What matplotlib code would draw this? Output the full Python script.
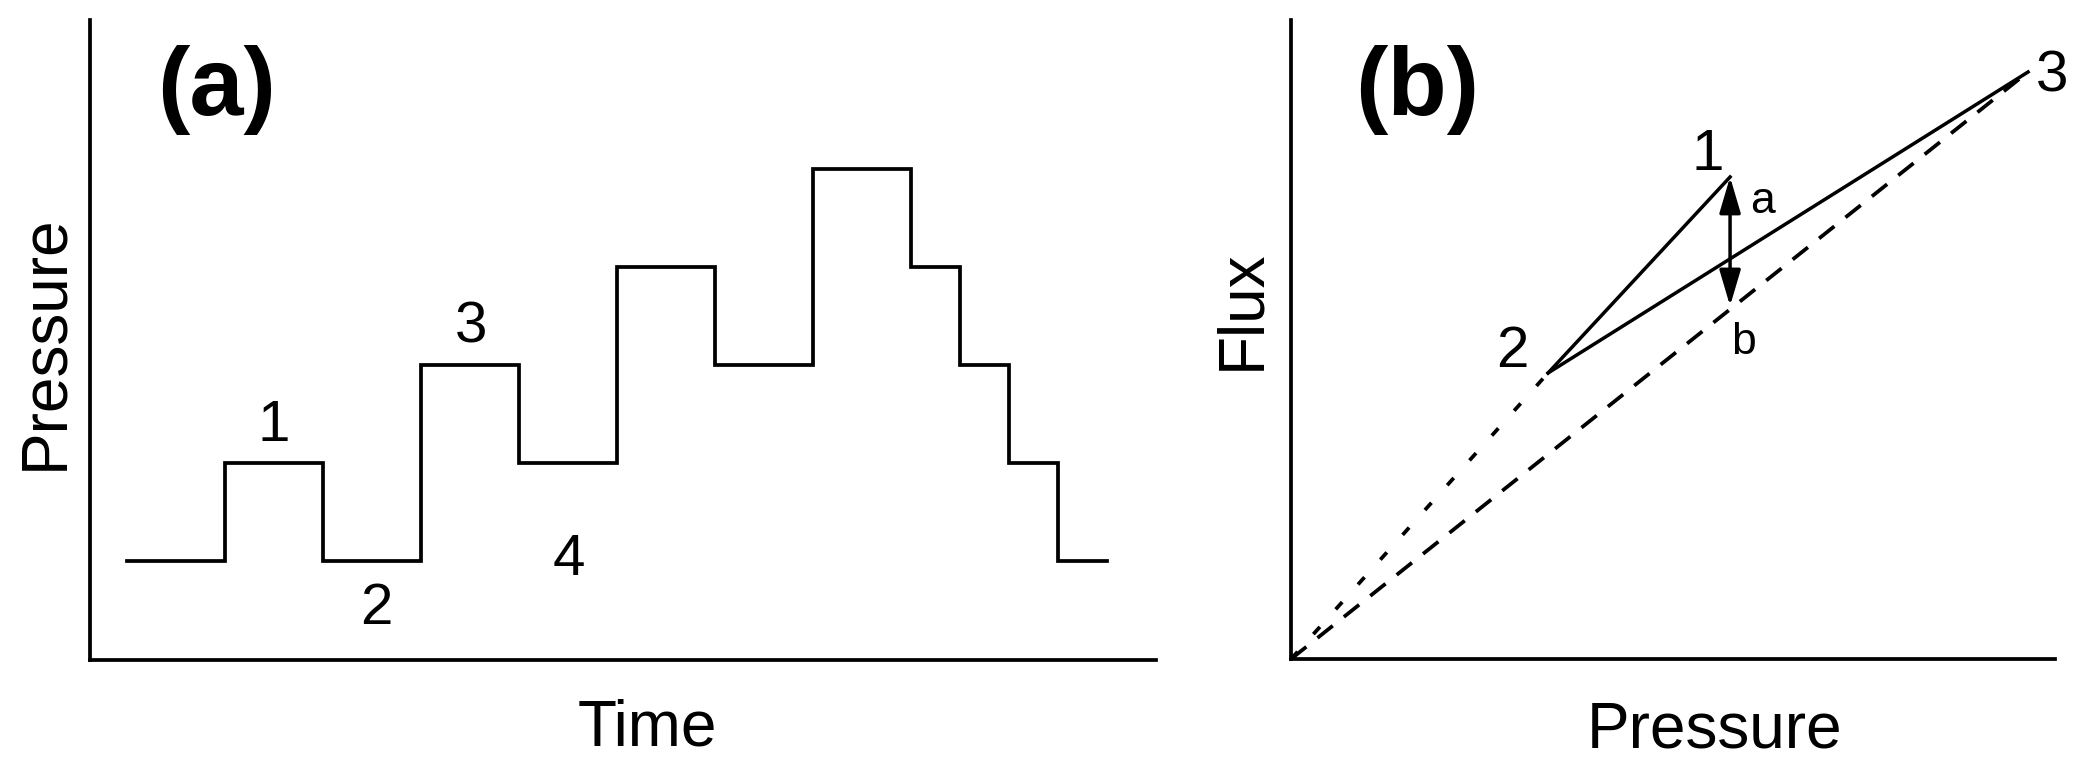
import matplotlib
matplotlib.use("Agg")
import matplotlib.pyplot as plt
from matplotlib.patches import FancyArrowPatch, ArrowStyle

plt.rcParams['font.family'] = ['Liberation Sans', 'DejaVu Sans']

# panel (a): stepwise pressure vs time
time_edges = [0, 1, 2, 3, 4, 5, 6, 7, 8, 8.5, 9, 9.5, 10]
pressure_levels = [0, 1, 0, 2, 1, 3, 2, 4, 3, 2, 1, 0]
a_labels = ['1', '2', '3', '4']
a_label_x = [1.5, 2.54, 3.51, 4.51]
a_label_y = [1.38, -0.49, 2.38, 0.01]

# panel (b): flux vs pressure
pt_names = ['1', '2', '3']
pt_p = [4.39, 2.57, 7.37]
pt_f = [4.82, 2.86, 5.87]
b_flux = 3.53   # point b on dashed line below point 1
name_x = [4.17, 2.21, 7.61]
name_y = [5.04, 3.07, 5.82]

LW = 2.7
fig = plt.figure(figsize=(21, 7.78), dpi=100)

# ---- (a)
ax1 = fig.add_axes([0.04286, 0.1517, 0.5076, 0.8226])
xs, ys = [], []
for i, p in enumerate(pressure_levels):
    xs += [time_edges[i], time_edges[i + 1]]
    ys += [p, p]
ax1.plot(xs, ys, color='black', lw=LW, solid_joinstyle='miter')
ax1.set_xlim(-0.378, 10.5)
ax1.set_ylim(-1.01, 5.52)
for lab, x, y in zip(a_labels, a_label_x, a_label_y):
    ax1.text(x, y, lab, fontsize=42, ha='center', va='center')
ax1.text(0.91, 4.81, '(a)', fontsize=70, fontweight='bold', ha='center', va='center')
ax1.text(0.5225, -0.133, 'Time', fontsize=46, ha='center', va='baseline',
         transform=ax1.transAxes)
ax1.text(-0.042, 0.497, 'Pressure', fontsize=46, ha='center', va='center',
         rotation=90, transform=ax1.transAxes)

# ---- (b)
ax2 = fig.add_axes([0.6148, 0.153, 0.3638, 0.8213])
p1, p2, p3 = pt_p
f1, f2, f3 = pt_f
ax2.plot([0, p2], [0, f2], color='black', lw=LW, dashes=(2.6, 6.3))
ax2.plot([0, p3], [0, f3], color='black', lw=LW, dashes=(5.2, 3.8))
ax2.plot([p2, p1], [f2, f1], color='black', lw=2.5)
ax2.plot([p2, p3], [f2, f3], color='black', lw=2.5)
arr = FancyArrowPatch((p1, f1), (p1, b_flux),
                      arrowstyle=ArrowStyle('<|-|>', head_length=22, head_width=6.5),
                      mutation_scale=1, shrinkA=0, shrinkB=0,
                      color='black', lw=2.5)
ax2.add_patch(arr)
ax2.set_xlim(0, 7.64)
ax2.set_ylim(0, 6.39)
for lab, x, y in zip(pt_names, name_x, name_y):
    ax2.text(x, y, lab, fontsize=42, ha='center', va='center')
ax2.text(4.71, 4.57, 'a', fontsize=32, ha='center', va='center')
ax2.text(4.52, 3.16, 'b', fontsize=32, ha='center', va='center')
ax2.text(1.26, 5.69, '(b)', fontsize=70, fontweight='bold', ha='center', va='center')
ax2.text(0.554, -0.138, 'Pressure', fontsize=46, ha='center', va='baseline',
         transform=ax2.transAxes)
ax2.text(-0.064, 0.546, 'Flux', fontsize=46, ha='center', va='center',
         rotation=90, transform=ax2.transAxes)

for ax in (ax1, ax2):
    for s in ('top', 'right'):
        ax.spines[s].set_visible(False)
    for s in ('left', 'bottom'):
        ax.spines[s].set_linewidth(LW)
    ax.set_xticks([])
    ax.set_yticks([])

fig.savefig('out.png', dpi=100)
